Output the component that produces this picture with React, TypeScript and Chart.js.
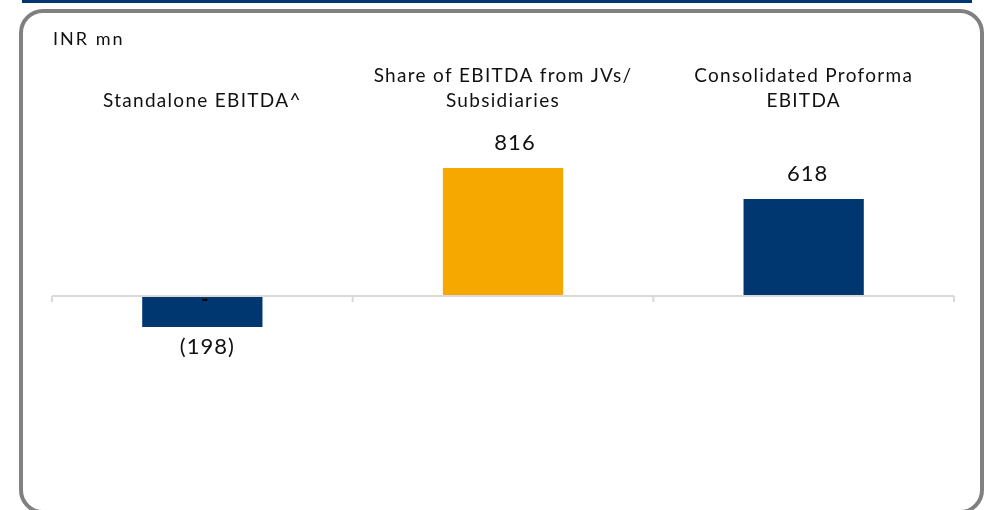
import React, { useEffect, useRef } from 'react';
import { Chart, registerables } from 'chart.js';

Chart.register(...registerables);

const categories: string[][] = [
  ['Standalone EBITDA^'],
  ['Share of EBITDA from JVs/', 'Subsidiaries'],
  ['Consolidated Proforma', 'EBITDA'],
];
const values: number[] = [-198, 816, 618];
const valueLabels: string[] = ['(198)', '816', '618'];
const zeroLabels: string[] = ['-', '', ''];
const barColors: string[] = ['#003770', '#F6A800', '#003770'];
const unitLabel = 'INR mn';
const yMin = -1000;
const yMax = 1000;

const FONT = 'Lato';

const annotPlugin = {
  id: 'annot',
  beforeDraw(chart: any) {
    chart.ctx.letterSpacing = '1.3px';
  },
  afterDatasetsDraw(chart: any, _args: any, opts: any) {
    const { ctx, chartArea, scales } = chart;
    const y0 = scales.y.getPixelForValue(0);
    const left = chartArea.left;
    const right = chartArea.right;
    const n = categories.length;
    const step = (right - left) / n;
    const dxs: number[] = opts.labelShift || [];

    ctx.save();
    // zero axis line with category boundary ticks
    ctx.strokeStyle = '#d9d9d9';
    ctx.lineWidth = 2;
    ctx.beginPath();
    ctx.moveTo(left, y0);
    ctx.lineTo(right, y0);
    for (let i = 0; i <= n; i++) {
      const x = left + i * step;
      ctx.moveTo(x, y0);
      ctx.lineTo(x, y0 + 6);
    }
    ctx.stroke();

    // value labels
    const meta = chart.getDatasetMeta(0);
    ctx.fillStyle = '#111';
    ctx.textAlign = 'center';
    ctx.textBaseline = 'middle';
    ctx.font = `22px ${FONT}`;
    (ctx as any).letterSpacing = '1px';
    meta.data.forEach((el: any, i: number) => {
      const v = values[i];
      const y = v >= 0 ? el.y - 25 : el.y + 20;
      ctx.fillText(valueLabels[i], el.x + (dxs[i] || 0), y);
    });

    // zero markers
    ctx.font = `bold 20px ${FONT}`;
    ctx.fillStyle = '#000';
    meta.data.forEach((el: any, i: number) => {
      if (zeroLabels[i]) ctx.fillText(zeroLabels[i], el.x + 3, y0 + 4);
    });

    // unit label
    ctx.fillStyle = '#111';
    ctx.textAlign = 'left';
    ctx.font = `18px ${FONT}`;
    (ctx as any).letterSpacing = '2px';
    ctx.fillText(unitLabel, 53, 39);
    ctx.restore();
  },
};

export default function App() {
  const canvasRef = useRef<HTMLCanvasElement | null>(null);

  useEffect(() => {
    const canvas = canvasRef.current;
    if (!canvas) return;
    const chart = new Chart(canvas, {
      type: 'bar',
      data: {
        labels: categories,
        datasets: [
          {
            data: values,
            backgroundColor: barColors,
            borderWidth: 0,
            barPercentage: 0.4,
            categoryPercentage: 1.0,
          },
        ],
      },
      options: {
        responsive: false,
        animation: false,
        devicePixelRatio: 1,
        layout: { padding: { top: 37, left: 52, right: 31, bottom: 57 } },
        plugins: {
          legend: { display: false },
          tooltip: { enabled: false },
          title: { display: false },
          annot: { labelShift: [5, 12, 4] },
        } as any,
        scales: {
          x: {
            position: 'top',
            grid: { display: false, drawTicks: false },
            border: { display: false },
            ticks: {
              color: '#111',
              font: { family: FONT, size: 19, lineHeight: 25 / 19 },
              padding: 26,
              maxRotation: 0,
              minRotation: 0,
              autoSkip: false,
            },
          },
          y: {
            display: false,
            min: yMin,
            max: yMax,
          },
        },
      },
      plugins: [annotPlugin],
    });
    return () => chart.destroy();
  }, []);

  return (
    <div style={{ position: 'fixed', left: 0, top: 0, width: 985, height: 510, background: '#fff', overflow: 'hidden' }}>
      <div style={{ position: 'absolute', left: 22, top: 0, width: 950, height: 3, background: '#003770' }} />
      <div
        style={{
          position: 'absolute',
          left: 19,
          top: 9,
          width: 965,
          height: 505,
          boxSizing: 'border-box',
          border: '4px solid #808080',
          borderRadius: 24,
        }}
      />
      <canvas ref={canvasRef} width={985} height={510} style={{ position: 'absolute', left: 0, top: 0, display: 'block' }} />
    </div>
  );
}
